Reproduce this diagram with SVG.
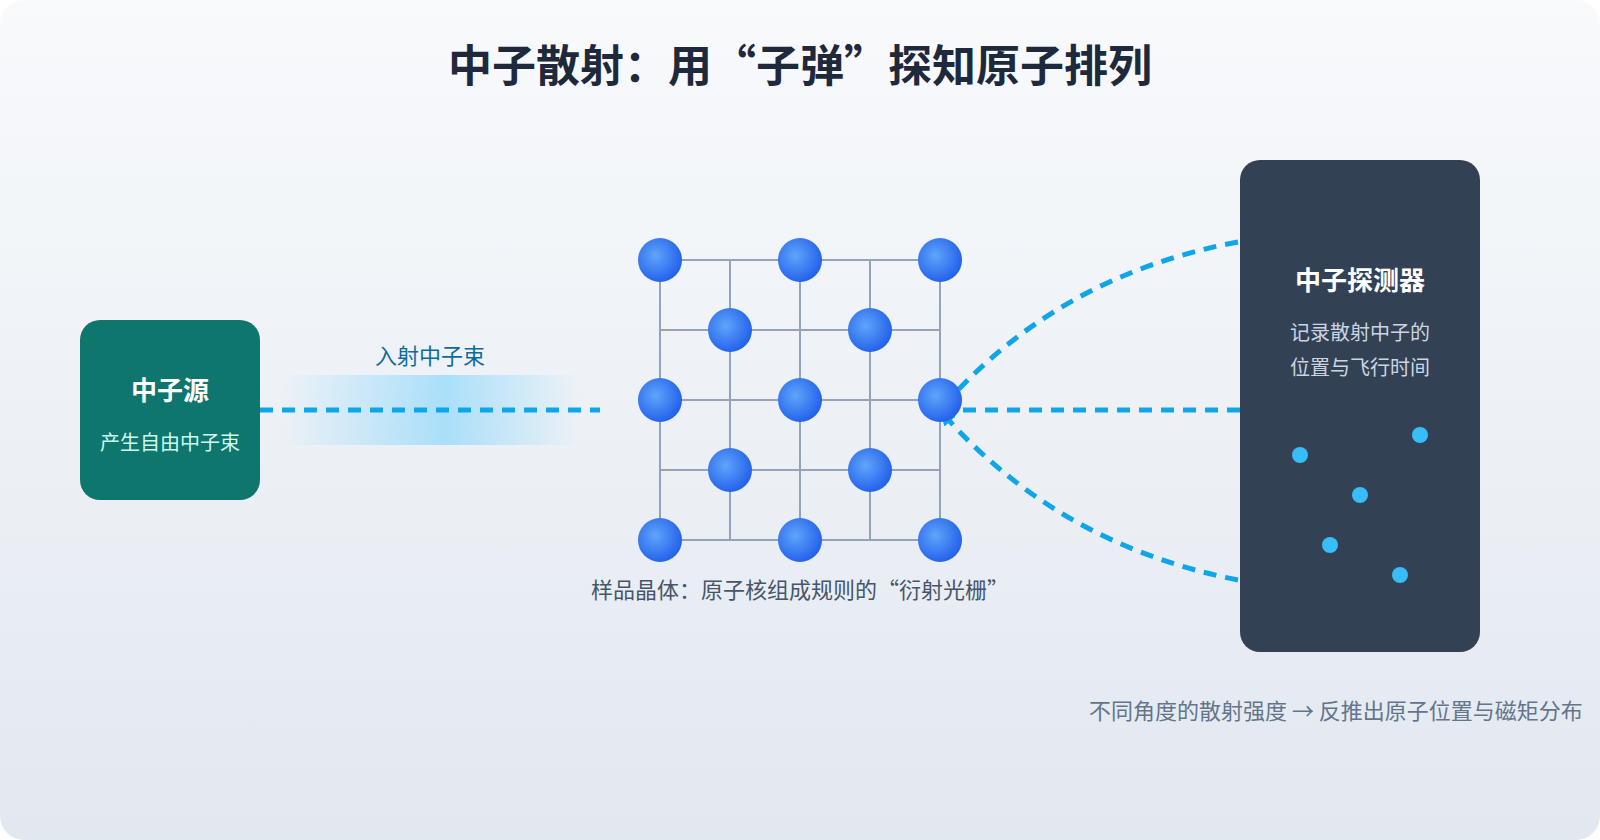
<svg xmlns="http://www.w3.org/2000/svg" width="1600" height="840" viewBox="0 0 1600 840">
<style>
text{font-family:"Noto Sans CJK SC","Noto Sans",sans-serif}
.grid{stroke:#94a3b8;stroke-width:2;fill:none}
.atom{fill:url(#ag)}
.ray{stroke:#0ea5e9;stroke-width:5;fill:none;stroke-dasharray:13 9}
.dot{fill:#38bdf8}
</style>
<defs>
<linearGradient id="bg" x1="0" y1="0" x2="0" y2="1"><stop offset="0" stop-color="#f8fafc"/><stop offset="1" stop-color="#e2e8f0"/></linearGradient>
<linearGradient id="glow" x1="0" y1="0" x2="1" y2="0"><stop offset="0" stop-color="#7dd3fc" stop-opacity="0"/><stop offset="0.55" stop-color="#7dd3fc" stop-opacity="0.6"/><stop offset="1" stop-color="#7dd3fc" stop-opacity="0"/></linearGradient>
<radialGradient id="ag" cx="0.4" cy="0.4" r="0.6"><stop offset="0" stop-color="#60a5fa"/><stop offset="1" stop-color="#2563eb"/></radialGradient>
<marker id="ah" viewBox="0 0 10 10" refX="5" refY="5" markerWidth="3" markerHeight="3" orient="auto-start-reverse"><path d="M0,0 L10,5 L0,10 z" fill="#0ea5e9"/></marker>
</defs>
<rect x="0" y="0" width="1600" height="840" rx="24" fill="url(#bg)"/>
<text x="800" y="82" text-anchor="middle" font-size="44" font-weight="700" fill="#1e293b">中子散射：用“子弹”探知原子排列</text>

<g id="connectors">
<rect x="280" y="375" width="300" height="70" fill="url(#glow)"/>
<line class="ray" x1="260" y1="410" x2="600" y2="410"/>
<path class="ray" d="M1238,242 Q1060,275 945,404" marker-end="url(#ah)"/>
<line class="ray" x1="1240" y1="410" x2="945" y2="410" marker-end="url(#ah)"/>
<path class="ray" d="M1238,580 Q1060,545 945,416" marker-end="url(#ah)"/>
<text x="430" y="364" text-anchor="middle" font-size="22" fill="#0c6b9c">入射中子束</text>
</g>

<g id="source">
<rect x="80" y="320" width="180" height="180" rx="20" fill="#0f766e"/>
<text x="170" y="400" text-anchor="middle" font-size="26" font-weight="700" fill="#ffffff">中子源</text>
<text x="170" y="450" text-anchor="middle" font-size="20" fill="#ccfbf1">产生自由中子束</text>
</g>

<g id="crystal">
<path class="grid" d="M660,260H940M660,330H940M660,400H940M660,470H940M660,540H940M660,260V540M730,260V540M800,260V540M870,260V540M940,260V540"/>
<circle class="atom" cx="660" cy="260" r="22"/><circle class="atom" cx="800" cy="260" r="22"/><circle class="atom" cx="940" cy="260" r="22"/>
<circle class="atom" cx="730" cy="330" r="22"/><circle class="atom" cx="870" cy="330" r="22"/>
<circle class="atom" cx="660" cy="400" r="22"/><circle class="atom" cx="800" cy="400" r="22"/><circle class="atom" cx="940" cy="400" r="22"/>
<circle class="atom" cx="730" cy="470" r="22"/><circle class="atom" cx="870" cy="470" r="22"/>
<circle class="atom" cx="660" cy="540" r="22"/><circle class="atom" cx="800" cy="540" r="22"/><circle class="atom" cx="940" cy="540" r="22"/>
<text x="800" y="598" text-anchor="middle" font-size="22" fill="#475569">样品晶体：原子核组成规则的“衍射光栅”</text>
</g>

<g id="detector">
<rect x="1240" y="160" width="240" height="492" rx="20" fill="#334155"/>
<text x="1360" y="290" text-anchor="middle" font-size="26" font-weight="700" fill="#ffffff">中子探测器</text>
<text x="1360" y="340" text-anchor="middle" font-size="20" fill="#cbd5e1">记录散射中子的</text>
<text x="1360" y="375" text-anchor="middle" font-size="20" fill="#cbd5e1">位置与飞行时间</text>
<circle class="dot" cx="1300" cy="455" r="8"/>
<circle class="dot" cx="1420" cy="435" r="8"/>
<circle class="dot" cx="1360" cy="495" r="8"/>
<circle class="dot" cx="1330" cy="545" r="8"/>
<circle class="dot" cx="1400" cy="575" r="8"/>
</g>

<text x="1089" y="719" font-size="22" fill="#64748b">不同角度的散射强度 → 反推出原子位置与磁矩分布</text>
</svg>
